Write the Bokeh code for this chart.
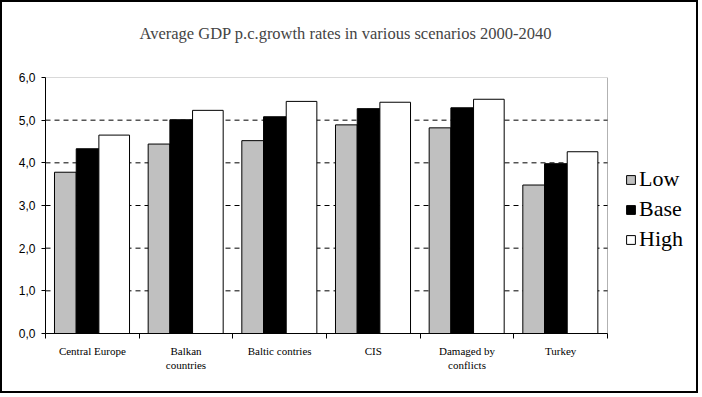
from bokeh.plotting import figure
from bokeh.models import FixedTicker, ColumnDataSource, Legend, LegendItem, Range1d, BoxAnnotation, Title
from bokeh.embed import file_html
from bokeh.resources import INLINE

categories = ["Central Europe", "Balkan\ncountries", "Baltic contries", "CIS",
              "Damaged by\nconflicts", "Turkey"]
low = [3.78, 4.44, 4.52, 4.89, 4.82, 3.48]
base = [4.33, 5.01, 5.08, 5.27, 5.29, 3.98]
high = [4.65, 5.23, 5.44, 5.42, 5.49, 4.26]
y_ticks = [0, 1, 2, 3, 4, 5, 6]
y_labels = ["0,0", "1,0", "2,0", "3,0", "4,0", "5,0", "6,0"]
title_text = "Average GDP p.c.growth rates in various scenarios 2000-2040"

n = len(categories)
centers = [i + 0.5 for i in range(n)]

# plot area is 562px wide; the frame is extended to hold the legend (651px)
x_end = n * 651 / 562

p = figure(width=698, height=393, output_backend="svg", toolbar_location=None,
           x_range=Range1d(0, x_end), y_range=Range1d(y_ticks[0], y_ticks[-1]),
           min_border_left=43, min_border_right=4, min_border_top=75, min_border_bottom=62,
           background_fill_color="white", border_fill_color="white")
p.styles = {"border": "2px solid black"}

src = ColumnDataSource(dict(
    xl=[c - 0.288 for c in centers], xb=[c - 0.051 for c in centers], xh=[c + 0.2335 for c in centers],
    low=low, base=base, high=high))

# dashed gridlines limited to the plot area
p.segment(x0=[0] * len(y_ticks[1:-1]), x1=[n] * len(y_ticks[1:-1]), y0=y_ticks[1:-1], y1=y_ticks[1:-1],
          line_color="black", line_dash="5 4", line_width=1, level="underlay")

r_low = p.vbar(x="xl", top="low", width=0.232, source=src, fill_color="#C0C0C0", line_color="black", line_width=1)
r_base = p.vbar(x="xb", top="base", width=0.242, source=src, fill_color="black", line_color="black", line_width=1)
r_high = p.vbar(x="xh", top="high", width=0.327, source=src, fill_color="white", line_color="black", line_width=1)

p.add_layout(BoxAnnotation(left=0, right=n, bottom=y_ticks[0], top=y_ticks[-1],
                           fill_alpha=0, line_color="black", line_width=1))

# spacer panel between the title and the plot area
p.add_layout(Title(text=" ", text_font_size="1px", standoff=32), "above")

p.title.text = title_text
p.title.text_font = "Liberation Serif"
p.title.text_font_size = "16.5px"
p.title.text_font_style = "normal"
p.title.align = "left"
p.title.offset = 94
p.title.vertical_align = "bottom"
p.title.standoff = 0

p.outline_line_color = None
p.xgrid.grid_line_color = None
p.ygrid.grid_line_color = None

xa = p.xaxis[0]
xa.bounds = (0, n)
xa.ticker = FixedTicker(ticks=centers, minor_ticks=list(range(n + 1)))
xa.major_label_overrides = {c: lab for c, lab in zip(centers, categories)}
xa.major_tick_out = 0
xa.major_tick_in = 0
xa.minor_tick_out = 5
xa.minor_tick_in = 0
xa.minor_tick_line_color = "black"
xa.axis_line_color = "black"
xa.major_label_text_font = "Liberation Serif"
xa.major_label_text_font_size = "11px"
xa.major_label_text_color = "black"
xa.major_label_standoff = 6

ya = p.yaxis[0]
ya.ticker = FixedTicker(ticks=y_ticks)
ya.major_label_overrides = {t: l for t, l in zip(y_ticks, y_labels)}
ya.major_tick_out = 4
ya.major_tick_in = 0
ya.minor_tick_out = 0
ya.minor_tick_in = 0
ya.axis_line_color = "black"
ya.major_tick_line_color = "black"
ya.major_label_text_font = "Liberation Sans"
ya.major_label_text_font_size = "12px"
ya.major_label_text_color = "black"
ya.major_label_standoff = 6

legend = Legend(items=[LegendItem(label="Low", renderers=[r_low]),
                       LegendItem(label="Base", renderers=[r_base]),
                       LegendItem(label="High", renderers=[r_high])],
                location=(580, 81), border_line_color=None, background_fill_alpha=0,
                glyph_width=11, glyph_height=11, label_text_font="Liberation Serif",
                label_text_font_size="22px", label_text_color="black", label_standoff=3,
                label_height=20, spacing=4, padding=0, margin=0)
p.add_layout(legend, "center")

open("out.html", "w").write(file_html(p, INLINE))
